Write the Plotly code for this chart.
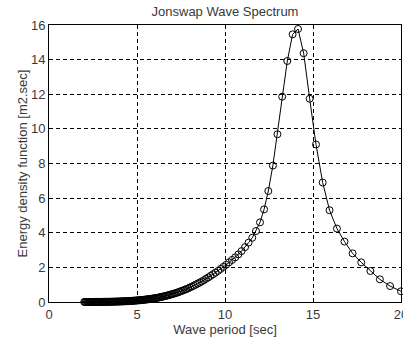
import plotly.graph_objects as go

# Long-period side of the spectrum (around the peak)
period_long = [20.00, 19.38, 18.80, 18.26, 17.74, 17.25, 16.79, 16.36, 15.94, 15.55,
               15.17, 14.81, 14.47, 14.15, 13.84, 13.54, 13.25, 12.98, 12.72, 12.46,
               12.22, 11.99, 11.76, 11.55, 11.34]
energy_long = [0.62, 0.92, 1.31, 1.79, 2.29, 2.81, 3.49, 4.24, 5.30, 6.90,
               9.10, 11.74, 14.37, 15.77, 15.46, 13.92, 11.86, 9.69, 7.88, 6.41,
               5.35, 4.60, 4.10, 3.71, 3.43]

# Mid periods
period_mid = [11.14, 10.94, 10.76, 10.58, 10.40, 10.23, 10.07, 9.91, 9.75, 9.61,
              9.46, 9.32, 9.18, 9.05, 8.92, 8.80, 8.68, 8.56, 8.44, 8.33,
              8.22, 8.12, 8.01, 7.91, 7.81, 7.72, 7.62, 7.53, 7.44, 7.36,
              7.27, 7.19, 7.11, 7.03, 6.95, 6.87, 6.80, 6.73, 6.66, 6.59,
              6.52, 6.45, 6.38, 6.32, 6.26, 6.20, 6.14, 6.08, 6.02]
energy_mid = [3.17, 2.94, 2.75, 2.58, 2.43, 2.29, 2.15, 2.03, 1.91, 1.80,
              1.70, 1.60, 1.51, 1.42, 1.34, 1.26, 1.19, 1.12, 1.06, 1.00,
              0.94, 0.89, 0.84, 0.79, 0.75, 0.71, 0.67, 0.64, 0.60, 0.57,
              0.54, 0.51, 0.49, 0.46, 0.44, 0.42, 0.39, 0.38, 0.36, 0.34,
              0.32, 0.31, 0.29, 0.28, 0.27, 0.25, 0.24, 0.23, 0.22]

# Short periods (dense band near zero)
period_short = [5.95, 5.90, 5.85, 5.80, 5.75, 5.70, 5.65, 5.60, 5.55, 5.50,
                5.45, 5.40, 5.35, 5.30, 5.25, 5.20, 5.15, 5.10, 5.05, 5.00,
                4.95, 4.90, 4.85, 4.80, 4.75, 4.70, 4.65, 4.60, 4.55, 4.50,
                4.45, 4.40, 4.35, 4.30, 4.25, 4.20, 4.15, 4.10, 4.05, 4.00,
                3.95, 3.90, 3.85, 3.80, 3.75, 3.70, 3.65, 3.60, 3.55, 3.50,
                3.45, 3.40, 3.35, 3.30, 3.25, 3.20, 3.15, 3.10, 3.05, 3.00,
                2.95, 2.90, 2.85, 2.80, 2.75, 2.70, 2.65, 2.60, 2.55, 2.50,
                2.45, 2.40, 2.35, 2.30, 2.25, 2.20, 2.15, 2.10, 2.05, 2.00]
energy_short = [0.208, 0.200, 0.192, 0.184, 0.176, 0.169, 0.162, 0.155, 0.148, 0.142,
                0.136, 0.130, 0.124, 0.119, 0.113, 0.108, 0.103, 0.098, 0.094, 0.089,
                0.085, 0.081, 0.077, 0.073, 0.069, 0.066, 0.062, 0.059, 0.056, 0.053,
                0.050, 0.047, 0.045, 0.042, 0.040, 0.038, 0.036, 0.033, 0.031, 0.030,
                0.028, 0.026, 0.024, 0.023, 0.021, 0.020, 0.019, 0.018, 0.016, 0.015,
                0.014, 0.013, 0.012, 0.011, 0.011, 0.010, 0.009, 0.008, 0.008, 0.007,
                0.007, 0.006, 0.005, 0.005, 0.005, 0.004, 0.004, 0.003, 0.003, 0.003,
                0.003, 0.002, 0.002, 0.002, 0.002, 0.001, 0.001, 0.001, 0.001, 0.001]

x_ticks = [0, 5, 10, 15, 20]
y_ticks = [0, 2, 4, 6, 8, 10, 12, 14, 16]

period = period_long + period_mid + period_short
energy = energy_long + energy_mid + energy_short

text_color = "#3a3a3a"
font_family = "Liberation Sans, Arial, sans-serif"
fsize = 13

fig = go.Figure()
fig.add_trace(go.Scatter(
    x=period, y=energy, mode="lines+markers",
    line=dict(color="black", width=1),
    marker=dict(symbol="circle-open", size=7, color="black", line=dict(width=1, color="black")),
    cliponaxis=False, showlegend=False,
))

axis_common = dict(
    showgrid=True, gridcolor="black", gridwidth=1, griddash="4px,3px",
    showline=True, linecolor="black", linewidth=1, mirror=True,
    ticks="inside", ticklen=4, tickcolor="black", zeroline=False,
    ticklabeloverflow="allow", automargin=False,
    tickfont=dict(size=fsize, color=text_color, family=font_family),
)

fig.update_xaxes(range=[0, 20], tickvals=x_ticks, ticktext=[str(v) for v in x_ticks],
                 title=dict(text="Wave period [sec]", standoff=1,
                            font=dict(size=fsize, color=text_color, family=font_family)),
                 **axis_common)
fig.update_yaxes(range=[0, 16], tickvals=y_ticks, ticktext=[str(v) for v in y_ticks],
                 title=dict(text="Energy density function [m2.sec]", standoff=0,
                            font=dict(size=fsize, color=text_color, family=font_family)),
                 **axis_common)

fig.update_layout(
    width=403, height=339,
    margin=dict(l=49, r=2, t=25, b=37),
    paper_bgcolor="white", plot_bgcolor="white",
    title=dict(text="Jonswap Wave Spectrum", x=0.5, xref="paper", xanchor="center",
               y=1 - 11 / 339, yref="container", yanchor="middle",
               font=dict(size=fsize, color=text_color, family=font_family)),
)

fig.write_html("out.html")
